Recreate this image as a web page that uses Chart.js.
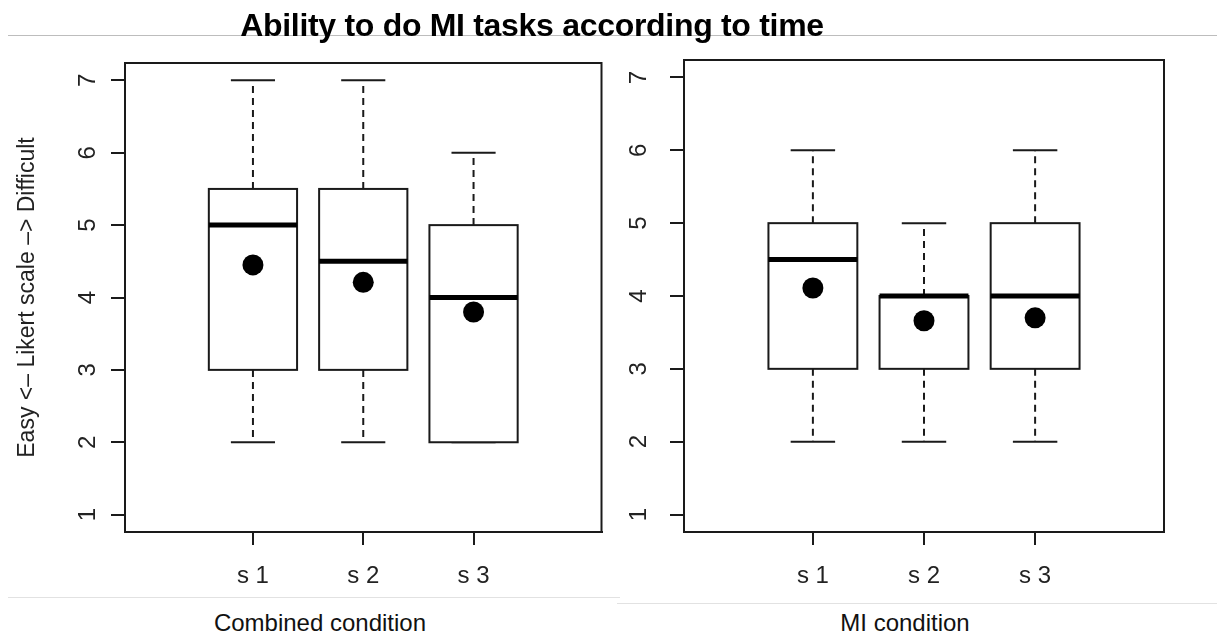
<!DOCTYPE html>
<html>
<head>
<meta charset="utf-8">
<script src="https://cdn.jsdelivr.net/npm/chart.js@4.4.1/dist/chart.umd.min.js"></script>
<style>
  html, body { margin: 0; padding: 0; background: #fff; }
  body { width: 1217px; height: 639px; position: relative; overflow: hidden; font-family: "Liberation Sans", Arial, sans-serif; }
  .line { position: absolute; height: 1px; }
  #title { position: absolute; left: 0; top: 9px; width: 1064px; text-align: center; font-weight: bold; font-size: 32px; line-height: 1; color: #000; z-index: 2; letter-spacing: -0.3px; }
  .caption { position: absolute; top: 611px; font-size: 24px; line-height: 1; color: #111; text-align: center; }
  canvas { position: absolute; top: 0; }
</style>
</head>
<body>
<div class="line" style="left:8px; top:35px; width:1209px; background:#bdbdbd;"></div>
<div id="title">Ability to do MI tasks according to time</div>
<div style="position:absolute; left:0; top:0; width:612px; height:600px;"><canvas id="chartCombined" width="612" height="600"></canvas></div>
<div style="position:absolute; left:612px; top:0; width:605px; height:600px;"><canvas id="chartMI" width="605" height="600"></canvas></div>
<div class="line" style="left:8px; top:597px; width:612px; background:#e2e2e2;"></div>
<div class="line" style="left:617px; top:603px; width:600px; background:#e2e2e2;"></div>
<div class="caption" style="left:170px; width:300px;">Combined condition</div>
<div class="caption" style="left:755px; width:300px;">MI condition</div>
<script>
// categories and tick labels
const categories = ["s 1", "s 2", "s 3"];
const yTicks = [1, 2, 3, 4, 5, 6, 7];
const yTitle = "Easy <\u2013 Likert scale \u2013> Difficult";

// Combined condition (min, quartiles, max, mean)
const combinedMin = [2, 2, 2];
const combinedQ1 = [3, 3, 2];
const combinedMedian = [5, 4.5, 4];
const combinedQ3 = [5.5, 5.5, 5];
const combinedMax = [7, 7, 6];
const combinedMean = [4.45, 4.21, 3.8];

// MI condition
const miMin = [2, 2, 2];
const miQ1 = [3, 3, 3];
const miMedian = [4.5, 4, 4];
const miQ3 = [5, 4, 5];
const miMax = [6, 5, 6];
const miMean = [4.11, 3.66, 3.7];

const FONT = "'Liberation Sans', Arial, sans-serif";

/* boxes, whiskers and medians drawn through the chart scales */
const boxPlugin = {
  id: "boxes",
  beforeDatasetsDraw(chart, args, opts) {
    const ctx = chart.ctx;
    const xs = chart.scales.x;
    const ys = chart.scales.y;
    const st = opts.stats;
    ctx.save();
    ctx.strokeStyle = "#1a1a1a";
    for (let i = 0; i < categories.length; i++) {
      const c = i + 1;
      const xc = xs.getPixelForValue(c);
      const xl = xs.getPixelForValue(c - 0.4);
      const xr = xs.getPixelForValue(c + 0.4);
      const cl = xs.getPixelForValue(c - 0.2);
      const cr = xs.getPixelForValue(c + 0.2);
      const yMin = ys.getPixelForValue(st.min[i]);
      const yQ1 = ys.getPixelForValue(st.q1[i]);
      const yMed = ys.getPixelForValue(st.median[i]);
      const yQ3 = ys.getPixelForValue(st.q3[i]);
      const yMax = ys.getPixelForValue(st.max[i]);

      // dashed whiskers
      ctx.lineWidth = 2;
      ctx.setLineDash([7, 5]);
      ctx.beginPath();
      ctx.moveTo(xc, yQ3); ctx.lineTo(xc, yMax);
      ctx.moveTo(xc, yQ1); ctx.lineTo(xc, yMin);
      ctx.stroke();
      ctx.setLineDash([]);

      // staples
      ctx.beginPath();
      ctx.moveTo(cl, yMax); ctx.lineTo(cr, yMax);
      ctx.moveTo(cl, yMin); ctx.lineTo(cr, yMin);
      ctx.stroke();

      // box
      ctx.fillStyle = "#fff";
      ctx.fillRect(xl, yQ3, xr - xl, yQ1 - yQ3);
      ctx.strokeRect(xl, yQ3, xr - xl, yQ1 - yQ3);

      // median
      ctx.lineWidth = 5;
      ctx.strokeStyle = "#000";
      ctx.beginPath();
      ctx.moveTo(xl, yMed); ctx.lineTo(xr, yMed);
      ctx.stroke();
      ctx.strokeStyle = "#1a1a1a";
    }
    ctx.restore();
  },
  afterDraw(chart) {
    // full frame round the plot area
    const a = chart.chartArea;
    const ctx = chart.ctx;
    ctx.save();
    ctx.strokeStyle = "#1a1a1a";
    ctx.lineWidth = 2;
    ctx.strokeRect(a.left, a.top, a.right - a.left, a.bottom - a.top);
    ctx.restore();
  }
};

let boxChart = (id, stats, mean, pad, yWidth, yPad, showTitle) => {
  const ctx = document.getElementById(id);
  const dataset = {
    datasets: [
      {
        label: "mean",
        data: mean.map((m, i) => ({ x: i + 1, y: m })),
        pointRadius: 10.5,
        pointHoverRadius: 10.5,
        pointBackgroundColor: "#000",
        pointBorderWidth: 0,
        showLine: false,
      },
    ],
  };
  const config = {
    type: "scatter",
    data: dataset,
    plugins: [boxPlugin],
    options: {
      responsive: false,
      animation: false,
      layout: { padding: pad },
      plugins: {
        legend: { display: false },
        tooltip: { enabled: false },
        boxes: { stats: stats },
      },
      scales: {
        x: {
          type: "linear",
          min: -0.16,
          max: 4.16,
          afterBuildTicks: (s) => { s.ticks = categories.map((c, i) => ({ value: i + 1 })); },
          afterFit: (s) => { s.height = 68; },
          grid: { drawOnChartArea: false, drawTicks: true, tickLength: 13, color: "#1a1a1a", lineWidth: 2 },
          border: { display: true, color: "#1a1a1a", width: 2 },
          ticks: {
            padding: 17,
            color: "#222",
            font: { family: FONT, size: 24 },
            callback: (v) => categories[v - 1],
          },
        },
        y: {
          type: "linear",
          min: 0.76,
          max: 7.24,
          afterBuildTicks: (s) => { s.ticks = yTicks.map((v) => ({ value: v })); },
          afterFit: (s) => { s.width = yWidth; },
          grid: { drawOnChartArea: false, drawTicks: true, tickLength: 14, color: "#1a1a1a", lineWidth: 2 },
          border: { display: true, color: "#1a1a1a", width: 2 },
          ticks: {
            minRotation: 90,
            maxRotation: 90,
            crossAlign: "center",
            padding: yPad,
            color: "#222",
            font: { family: FONT, size: 24 },
            callback: (v) => String(v),
          },
          title: {
            display: showTitle,
            text: yTitle,
            color: "#222",
            font: { family: FONT, size: 23 },
            padding: { top: 14, bottom: 0 },
          },
        },
      },
    },
  };
  return new Chart(ctx, config);
};

boxChart(
  "chartCombined",
  { min: combinedMin, q1: combinedQ1, median: combinedMedian, q3: combinedQ3, max: combinedMax },
  combinedMean,
  { left: 0, right: 8, top: 63, bottom: 0 },
  125,
  16,
  true
);
boxChart(
  "chartMI",
  { min: miMin, q1: miQ1, median: miMedian, q3: miQ3, max: miMax },
  miMean,
  { left: 0, right: 53, top: 60, bottom: 0 },
  72,
  24,
  false
);
</script>
</body>
</html>
